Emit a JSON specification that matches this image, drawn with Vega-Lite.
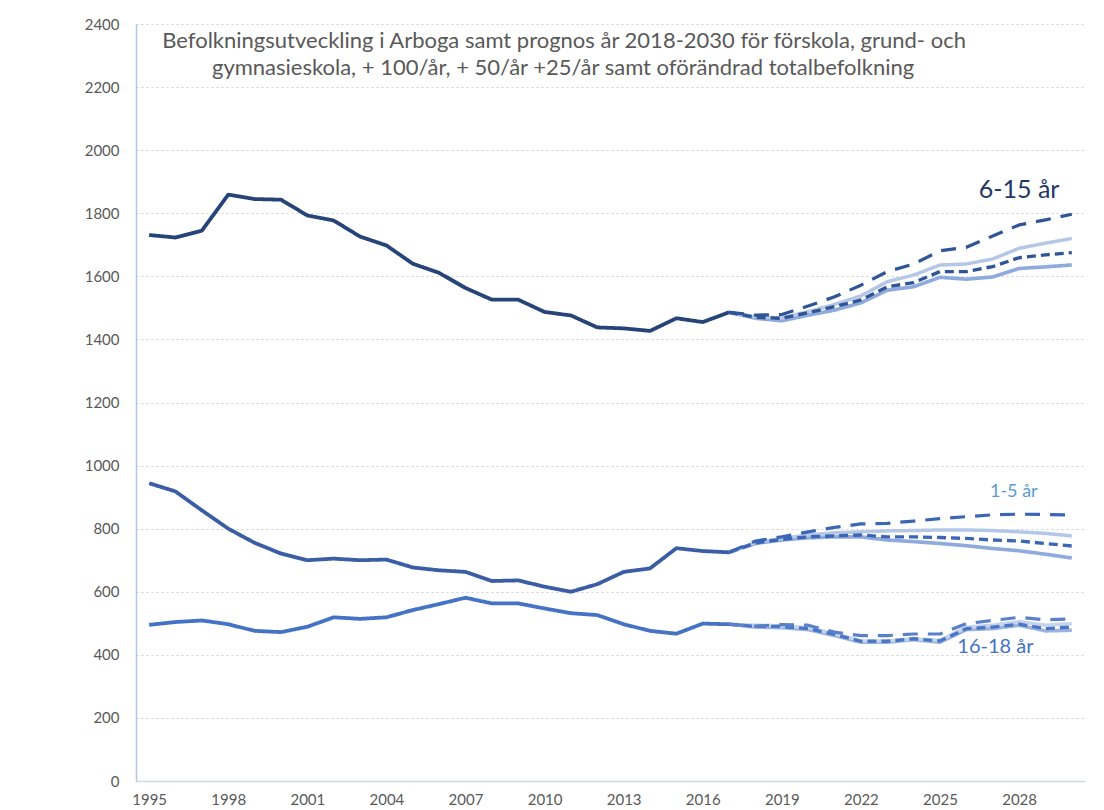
{
  "$schema": "https://vega.github.io/schema/vega-lite/v6.json",
  "width": 949,
  "height": 757,
  "autosize": "none",
  "padding": {"left": 136, "top": 24, "right": 19, "bottom": 29},
  "background": "white",
  "config": {"view": {"stroke": null}, "font": "Lato"},
  "resolve": {"scale": {"color": "independent"}},
  "datasets": {
    "lines": [
      {"k":"6-15 hist","s":"hist","year":1995,"v":1731},{"k":"6-15 hist","s":"hist","year":1996,"v":1723},{"k":"6-15 hist","s":"hist","year":1997,"v":1745},{"k":"6-15 hist","s":"hist","year":1998,"v":1859},{"k":"6-15 hist","s":"hist","year":1999,"v":1845},{"k":"6-15 hist","s":"hist","year":2000,"v":1843},{"k":"6-15 hist","s":"hist","year":2001,"v":1793},{"k":"6-15 hist","s":"hist","year":2002,"v":1777},{"k":"6-15 hist","s":"hist","year":2003,"v":1726},{"k":"6-15 hist","s":"hist","year":2004,"v":1698},{"k":"6-15 hist","s":"hist","year":2005,"v":1640},{"k":"6-15 hist","s":"hist","year":2006,"v":1611},{"k":"6-15 hist","s":"hist","year":2007,"v":1563},{"k":"6-15 hist","s":"hist","year":2008,"v":1526},{"k":"6-15 hist","s":"hist","year":2009,"v":1526},{"k":"6-15 hist","s":"hist","year":2010,"v":1487},{"k":"6-15 hist","s":"hist","year":2011,"v":1476},{"k":"6-15 hist","s":"hist","year":2012,"v":1438},{"k":"6-15 hist","s":"hist","year":2013,"v":1435},{"k":"6-15 hist","s":"hist","year":2014,"v":1427},{"k":"6-15 hist","s":"hist","year":2015,"v":1467},{"k":"6-15 hist","s":"hist","year":2016,"v":1455},{"k":"6-15 hist","s":"hist","year":2017,"v":1486},
      {"k":"1-5 hist","s":"hist","year":1995,"v":944},{"k":"1-5 hist","s":"hist","year":1996,"v":918},{"k":"1-5 hist","s":"hist","year":1997,"v":858},{"k":"1-5 hist","s":"hist","year":1998,"v":800},{"k":"1-5 hist","s":"hist","year":1999,"v":755},{"k":"1-5 hist","s":"hist","year":2000,"v":721},{"k":"1-5 hist","s":"hist","year":2001,"v":700},{"k":"1-5 hist","s":"hist","year":2002,"v":705},{"k":"1-5 hist","s":"hist","year":2003,"v":700},{"k":"1-5 hist","s":"hist","year":2004,"v":702},{"k":"1-5 hist","s":"hist","year":2005,"v":677},{"k":"1-5 hist","s":"hist","year":2006,"v":668},{"k":"1-5 hist","s":"hist","year":2007,"v":663},{"k":"1-5 hist","s":"hist","year":2008,"v":634},{"k":"1-5 hist","s":"hist","year":2009,"v":636},{"k":"1-5 hist","s":"hist","year":2010,"v":616},{"k":"1-5 hist","s":"hist","year":2011,"v":600},{"k":"1-5 hist","s":"hist","year":2012,"v":624},{"k":"1-5 hist","s":"hist","year":2013,"v":663},{"k":"1-5 hist","s":"hist","year":2014,"v":674},{"k":"1-5 hist","s":"hist","year":2015,"v":738},{"k":"1-5 hist","s":"hist","year":2016,"v":729},{"k":"1-5 hist","s":"hist","year":2017,"v":725},
      {"k":"16-18 hist","s":"hist","year":1995,"v":495},{"k":"16-18 hist","s":"hist","year":1996,"v":504},{"k":"16-18 hist","s":"hist","year":1997,"v":509},{"k":"16-18 hist","s":"hist","year":1998,"v":497},{"k":"16-18 hist","s":"hist","year":1999,"v":476},{"k":"16-18 hist","s":"hist","year":2000,"v":472},{"k":"16-18 hist","s":"hist","year":2001,"v":489},{"k":"16-18 hist","s":"hist","year":2002,"v":519},{"k":"16-18 hist","s":"hist","year":2003,"v":514},{"k":"16-18 hist","s":"hist","year":2004,"v":519},{"k":"16-18 hist","s":"hist","year":2005,"v":542},{"k":"16-18 hist","s":"hist","year":2006,"v":561},{"k":"16-18 hist","s":"hist","year":2007,"v":581},{"k":"16-18 hist","s":"hist","year":2008,"v":563},{"k":"16-18 hist","s":"hist","year":2009,"v":563},{"k":"16-18 hist","s":"hist","year":2010,"v":547},{"k":"16-18 hist","s":"hist","year":2011,"v":532},{"k":"16-18 hist","s":"hist","year":2012,"v":526},{"k":"16-18 hist","s":"hist","year":2013,"v":497},{"k":"16-18 hist","s":"hist","year":2014,"v":476},{"k":"16-18 hist","s":"hist","year":2015,"v":467},{"k":"16-18 hist","s":"hist","year":2016,"v":499},{"k":"16-18 hist","s":"hist","year":2017,"v":497},

      {"k":"6-15 ofor","s":"ofor","year":2017,"v":1486},{"k":"6-15 ofor","s":"ofor","year":2018,"v":1467},{"k":"6-15 ofor","s":"ofor","year":2019,"v":1459},{"k":"6-15 ofor","s":"ofor","year":2020,"v":1477},{"k":"6-15 ofor","s":"ofor","year":2021,"v":1493},{"k":"6-15 ofor","s":"ofor","year":2022,"v":1516},{"k":"6-15 ofor","s":"ofor","year":2023,"v":1556},{"k":"6-15 ofor","s":"ofor","year":2024,"v":1567},{"k":"6-15 ofor","s":"ofor","year":2025,"v":1597},{"k":"6-15 ofor","s":"ofor","year":2026,"v":1591},{"k":"6-15 ofor","s":"ofor","year":2027,"v":1598},{"k":"6-15 ofor","s":"ofor","year":2028,"v":1625},{"k":"6-15 ofor","s":"ofor","year":2029,"v":1630},{"k":"6-15 ofor","s":"ofor","year":2030,"v":1636},
      {"k":"6-15 +50","s":"p50","year":2017,"v":1486},{"k":"6-15 +50","s":"p50","year":2018,"v":1472},{"k":"6-15 +50","s":"p50","year":2019,"v":1468},{"k":"6-15 +50","s":"p50","year":2020,"v":1488},{"k":"6-15 +50","s":"p50","year":2021,"v":1511},{"k":"6-15 +50","s":"p50","year":2022,"v":1538},{"k":"6-15 +50","s":"p50","year":2023,"v":1583},{"k":"6-15 +50","s":"p50","year":2024,"v":1604},{"k":"6-15 +50","s":"p50","year":2025,"v":1636},{"k":"6-15 +50","s":"p50","year":2026,"v":1639},{"k":"6-15 +50","s":"p50","year":2027,"v":1655},{"k":"6-15 +50","s":"p50","year":2028,"v":1689},{"k":"6-15 +50","s":"p50","year":2029,"v":1705},{"k":"6-15 +50","s":"p50","year":2030,"v":1720},
      {"k":"6-15 +25","s":"p25","year":2017,"v":1486},{"k":"6-15 +25","s":"p25","year":2018,"v":1470},{"k":"6-15 +25","s":"p25","year":2019,"v":1467},{"k":"6-15 +25","s":"p25","year":2020,"v":1485},{"k":"6-15 +25","s":"p25","year":2021,"v":1504},{"k":"6-15 +25","s":"p25","year":2022,"v":1525},{"k":"6-15 +25","s":"p25","year":2023,"v":1567},{"k":"6-15 +25","s":"p25","year":2024,"v":1580},{"k":"6-15 +25","s":"p25","year":2025,"v":1615},{"k":"6-15 +25","s":"p25","year":2026,"v":1615},{"k":"6-15 +25","s":"p25","year":2027,"v":1631},{"k":"6-15 +25","s":"p25","year":2028,"v":1659},{"k":"6-15 +25","s":"p25","year":2029,"v":1668},{"k":"6-15 +25","s":"p25","year":2030,"v":1675},
      {"k":"6-15 +100","s":"p100","year":2017,"v":1486},{"k":"6-15 +100","s":"p100","year":2018,"v":1477},{"k":"6-15 +100","s":"p100","year":2019,"v":1479},{"k":"6-15 +100","s":"p100","year":2020,"v":1506},{"k":"6-15 +100","s":"p100","year":2021,"v":1535},{"k":"6-15 +100","s":"p100","year":2022,"v":1572},{"k":"6-15 +100","s":"p100","year":2023,"v":1615},{"k":"6-15 +100","s":"p100","year":2024,"v":1639},{"k":"6-15 +100","s":"p100","year":2025,"v":1681},{"k":"6-15 +100","s":"p100","year":2026,"v":1692},{"k":"6-15 +100","s":"p100","year":2027,"v":1728},{"k":"6-15 +100","s":"p100","year":2028,"v":1763},{"k":"6-15 +100","s":"p100","year":2029,"v":1779},{"k":"6-15 +100","s":"p100","year":2030,"v":1797},

      {"k":"1-5 ofor","s":"ofor","year":2017,"v":725},{"k":"1-5 ofor","s":"ofor","year":2018,"v":753},{"k":"1-5 ofor","s":"ofor","year":2019,"v":764},{"k":"1-5 ofor","s":"ofor","year":2020,"v":771},{"k":"1-5 ofor","s":"ofor","year":2021,"v":774},{"k":"1-5 ofor","s":"ofor","year":2022,"v":774},{"k":"1-5 ofor","s":"ofor","year":2023,"v":764},{"k":"1-5 ofor","s":"ofor","year":2024,"v":759},{"k":"1-5 ofor","s":"ofor","year":2025,"v":753},{"k":"1-5 ofor","s":"ofor","year":2026,"v":746},{"k":"1-5 ofor","s":"ofor","year":2027,"v":737},{"k":"1-5 ofor","s":"ofor","year":2028,"v":730},{"k":"1-5 ofor","s":"ofor","year":2029,"v":719},{"k":"1-5 ofor","s":"ofor","year":2030,"v":707},
      {"k":"1-5 +50","s":"p50","year":2017,"v":725},{"k":"1-5 +50","s":"p50","year":2018,"v":756},{"k":"1-5 +50","s":"p50","year":2019,"v":769},{"k":"1-5 +50","s":"p50","year":2020,"v":780},{"k":"1-5 +50","s":"p50","year":2021,"v":787},{"k":"1-5 +50","s":"p50","year":2022,"v":790},{"k":"1-5 +50","s":"p50","year":2023,"v":793},{"k":"1-5 +50","s":"p50","year":2024,"v":794},{"k":"1-5 +50","s":"p50","year":2025,"v":796},{"k":"1-5 +50","s":"p50","year":2026,"v":796},{"k":"1-5 +50","s":"p50","year":2027,"v":794},{"k":"1-5 +50","s":"p50","year":2028,"v":790},{"k":"1-5 +50","s":"p50","year":2029,"v":785},{"k":"1-5 +50","s":"p50","year":2030,"v":777},
      {"k":"1-5 +25","s":"p25","year":2017,"v":725},{"k":"1-5 +25","s":"p25","year":2018,"v":755},{"k":"1-5 +25","s":"p25","year":2019,"v":766},{"k":"1-5 +25","s":"p25","year":2020,"v":774},{"k":"1-5 +25","s":"p25","year":2021,"v":777},{"k":"1-5 +25","s":"p25","year":2022,"v":780},{"k":"1-5 +25","s":"p25","year":2023,"v":774},{"k":"1-5 +25","s":"p25","year":2024,"v":774},{"k":"1-5 +25","s":"p25","year":2025,"v":772},{"k":"1-5 +25","s":"p25","year":2026,"v":769},{"k":"1-5 +25","s":"p25","year":2027,"v":764},{"k":"1-5 +25","s":"p25","year":2028,"v":761},{"k":"1-5 +25","s":"p25","year":2029,"v":753},{"k":"1-5 +25","s":"p25","year":2030,"v":745},
      {"k":"1-5 +100","s":"p100","year":2017,"v":725},{"k":"1-5 +100","s":"p100","year":2018,"v":761},{"k":"1-5 +100","s":"p100","year":2019,"v":774},{"k":"1-5 +100","s":"p100","year":2020,"v":790},{"k":"1-5 +100","s":"p100","year":2021,"v":804},{"k":"1-5 +100","s":"p100","year":2022,"v":815},{"k":"1-5 +100","s":"p100","year":2023,"v":817},{"k":"1-5 +100","s":"p100","year":2024,"v":824},{"k":"1-5 +100","s":"p100","year":2025,"v":832},{"k":"1-5 +100","s":"p100","year":2026,"v":838},{"k":"1-5 +100","s":"p100","year":2027,"v":844},{"k":"1-5 +100","s":"p100","year":2028,"v":846},{"k":"1-5 +100","s":"p100","year":2029,"v":845},{"k":"1-5 +100","s":"p100","year":2030,"v":843},

      {"k":"16-18 ofor","s":"ofor","year":2017,"v":497},{"k":"16-18 ofor","s":"ofor","year":2018,"v":488},{"k":"16-18 ofor","s":"ofor","year":2019,"v":486},{"k":"16-18 ofor","s":"ofor","year":2020,"v":480},{"k":"16-18 ofor","s":"ofor","year":2021,"v":461},{"k":"16-18 ofor","s":"ofor","year":2022,"v":440},{"k":"16-18 ofor","s":"ofor","year":2023,"v":440},{"k":"16-18 ofor","s":"ofor","year":2024,"v":448},{"k":"16-18 ofor","s":"ofor","year":2025,"v":440},{"k":"16-18 ofor","s":"ofor","year":2026,"v":480},{"k":"16-18 ofor","s":"ofor","year":2027,"v":483},{"k":"16-18 ofor","s":"ofor","year":2028,"v":494},{"k":"16-18 ofor","s":"ofor","year":2029,"v":476},{"k":"16-18 ofor","s":"ofor","year":2030,"v":478},
      {"k":"16-18 +50","s":"p50","year":2017,"v":497},{"k":"16-18 +50","s":"p50","year":2018,"v":494},{"k":"16-18 +50","s":"p50","year":2019,"v":492},{"k":"16-18 +50","s":"p50","year":2020,"v":486},{"k":"16-18 +50","s":"p50","year":2021,"v":467},{"k":"16-18 +50","s":"p50","year":2022,"v":444},{"k":"16-18 +50","s":"p50","year":2023,"v":444},{"k":"16-18 +50","s":"p50","year":2024,"v":451},{"k":"16-18 +50","s":"p50","year":2025,"v":446},{"k":"16-18 +50","s":"p50","year":2026,"v":488},{"k":"16-18 +50","s":"p50","year":2027,"v":494},{"k":"16-18 +50","s":"p50","year":2028,"v":505},{"k":"16-18 +50","s":"p50","year":2029,"v":494},{"k":"16-18 +50","s":"p50","year":2030,"v":499},
      {"k":"16-18 +25","s":"p25","year":2017,"v":497},{"k":"16-18 +25","s":"p25","year":2018,"v":490},{"k":"16-18 +25","s":"p25","year":2019,"v":490},{"k":"16-18 +25","s":"p25","year":2020,"v":483},{"k":"16-18 +25","s":"p25","year":2021,"v":465},{"k":"16-18 +25","s":"p25","year":2022,"v":443},{"k":"16-18 +25","s":"p25","year":2023,"v":443},{"k":"16-18 +25","s":"p25","year":2024,"v":451},{"k":"16-18 +25","s":"p25","year":2025,"v":444},{"k":"16-18 +25","s":"p25","year":2026,"v":483},{"k":"16-18 +25","s":"p25","year":2027,"v":488},{"k":"16-18 +25","s":"p25","year":2028,"v":497},{"k":"16-18 +25","s":"p25","year":2029,"v":483},{"k":"16-18 +25","s":"p25","year":2030,"v":488},
      {"k":"16-18 +100","s":"p100","year":2017,"v":497},{"k":"16-18 +100","s":"p100","year":2018,"v":491},{"k":"16-18 +100","s":"p100","year":2019,"v":496},{"k":"16-18 +100","s":"p100","year":2020,"v":494},{"k":"16-18 +100","s":"p100","year":2021,"v":472},{"k":"16-18 +100","s":"p100","year":2022,"v":461},{"k":"16-18 +100","s":"p100","year":2023,"v":461},{"k":"16-18 +100","s":"p100","year":2024,"v":466},{"k":"16-18 +100","s":"p100","year":2025,"v":466},{"k":"16-18 +100","s":"p100","year":2026,"v":499},{"k":"16-18 +100","s":"p100","year":2027,"v":509},{"k":"16-18 +100","s":"p100","year":2028,"v":519},{"k":"16-18 +100","s":"p100","year":2029,"v":511},{"k":"16-18 +100","s":"p100","year":2030,"v":514}
    ],
    "labels": [
      {"t":"Befolkningsutveckling i Arboga samt prognos år 2018-2030 för förskola, grund- och","year":2010.74,"v":2346,"kind":"title"},
      {"t":"gymnasieskola, + 100/år,  + 50/år  +25/år samt oförändrad totalbefolkning","year":2010.7,"v":2261,"kind":"title"},
      {"t":"6-15 år","year":2028.0,"v":1873,"kind":"l615"},
      {"t":"1-5 år","year":2027.8,"v":916,"kind":"l15"},
      {"t":"16-18 år","year":2027.1,"v":425,"kind":"l1618"}
    ]
  },
  "layer": [
    {
      "data": {"name": "lines"},
      "mark": {"type": "line", "strokeCap": "butt", "strokeJoin": "round", "clip": false},
      "encoding": {
        "x": {"field": "year", "type": "quantitative",
          "scale": {"domain": [1994.5, 2030.5], "nice": false, "zero": false},
          "axis": {"values": [1995,1998,2001,2004,2007,2010,2013,2016,2019,2022,2025,2028], "format": "d", "title": null, "grid": false, "ticks": false, "domain": true, "domainColor": "#D0D7E5", "domainWidth": 1.3, "labelFontSize": 15, "labelColor": "#595959", "labelPadding": 11, "labelFont": "Lato"}},
        "y": {"field": "v", "type": "quantitative",
          "scale": {"domain": [0, 2400], "nice": false},
          "axis": {"values": [0,200,400,600,800,1000,1200,1400,1600,1800,2000,2200,2400], "format": "d", "title": null, "grid": true, "gridColor": "#D0D0D0", "gridDash": [2, 3], "gridWidth": 1.2, "ticks": false, "domain": true, "domainColor": "#B4C7E7", "domainWidth": 1.5, "labelFontSize": 15, "labelColor": "#595959", "labelPadding": 17, "labelFont": "Lato"}},
        "detail": {"field": "k"},
        "color": {"field": "k", "type": "nominal", "legend": null,
          "scale": {
            "domain": ["6-15 hist","1-5 hist","16-18 hist","6-15 ofor","1-5 ofor","16-18 ofor","6-15 +50","1-5 +50","16-18 +50","6-15 +25","1-5 +25","16-18 +25","6-15 +100","1-5 +100","16-18 +100"],
            "range": ["#264478","#3A5DA6","#4472C4","#8FAADC","#8FAADC","#9DB3E0","#B4C7E7","#B4C7E7","#C5D3EC","#2F5597","#3A66B5","#4A76C6","#2F5597","#3A66B5","#5A80CA"]}},
        "strokeDash": {"field": "s", "type": "nominal", "legend": null,
          "scale": {"domain": ["hist","ofor","p50","p25","p100"], "range": [[1,0],[1,0],[1,0],[9,5],[15,10]]}},
        "strokeWidth": {"field": "s", "type": "nominal", "legend": null,
          "scale": {"domain": ["hist","ofor","p50","p25","p100"], "range": [3.8, 3.2, 3.2, 4.2, 5]}},
        "order": {"field": "year"}
      }
    },
    {
      "data": {"name": "labels"},
      "transform": [{"filter": "datum.kind === 'title'"}],
      "mark": {"type": "text", "clip": false, "font": "Lato", "fontSize": 22, "color": "#595959", "align": "center", "baseline": "middle"},
      "encoding": {
        "x": {"field": "year", "type": "quantitative"},
        "y": {"field": "v", "type": "quantitative"},
        "text": {"field": "t"}
      }
    },
    {
      "data": {"name": "labels"},
      "transform": [{"filter": "datum.kind === 'l615'"}],
      "mark": {"type": "text", "clip": false, "font": "Lato", "fontSize": 25, "color": "#1F3864", "align": "center", "baseline": "middle"},
      "encoding": {
        "x": {"field": "year", "type": "quantitative"},
        "y": {"field": "v", "type": "quantitative"},
        "text": {"field": "t"}
      }
    },
    {
      "data": {"name": "labels"},
      "transform": [{"filter": "datum.kind === 'l15'"}],
      "mark": {"type": "text", "clip": false, "font": "Lato", "fontSize": 18, "color": "#5B9BD5", "align": "center", "baseline": "middle"},
      "encoding": {
        "x": {"field": "year", "type": "quantitative"},
        "y": {"field": "v", "type": "quantitative"},
        "text": {"field": "t"}
      }
    },
    {
      "data": {"name": "labels"},
      "transform": [{"filter": "datum.kind === 'l1618'"}],
      "mark": {"type": "text", "clip": false, "font": "Lato", "fontSize": 20, "color": "#4472C4", "align": "center", "baseline": "middle"},
      "encoding": {
        "x": {"field": "year", "type": "quantitative"},
        "y": {"field": "v", "type": "quantitative"},
        "text": {"field": "t"}
      }
    }
  ]
}
